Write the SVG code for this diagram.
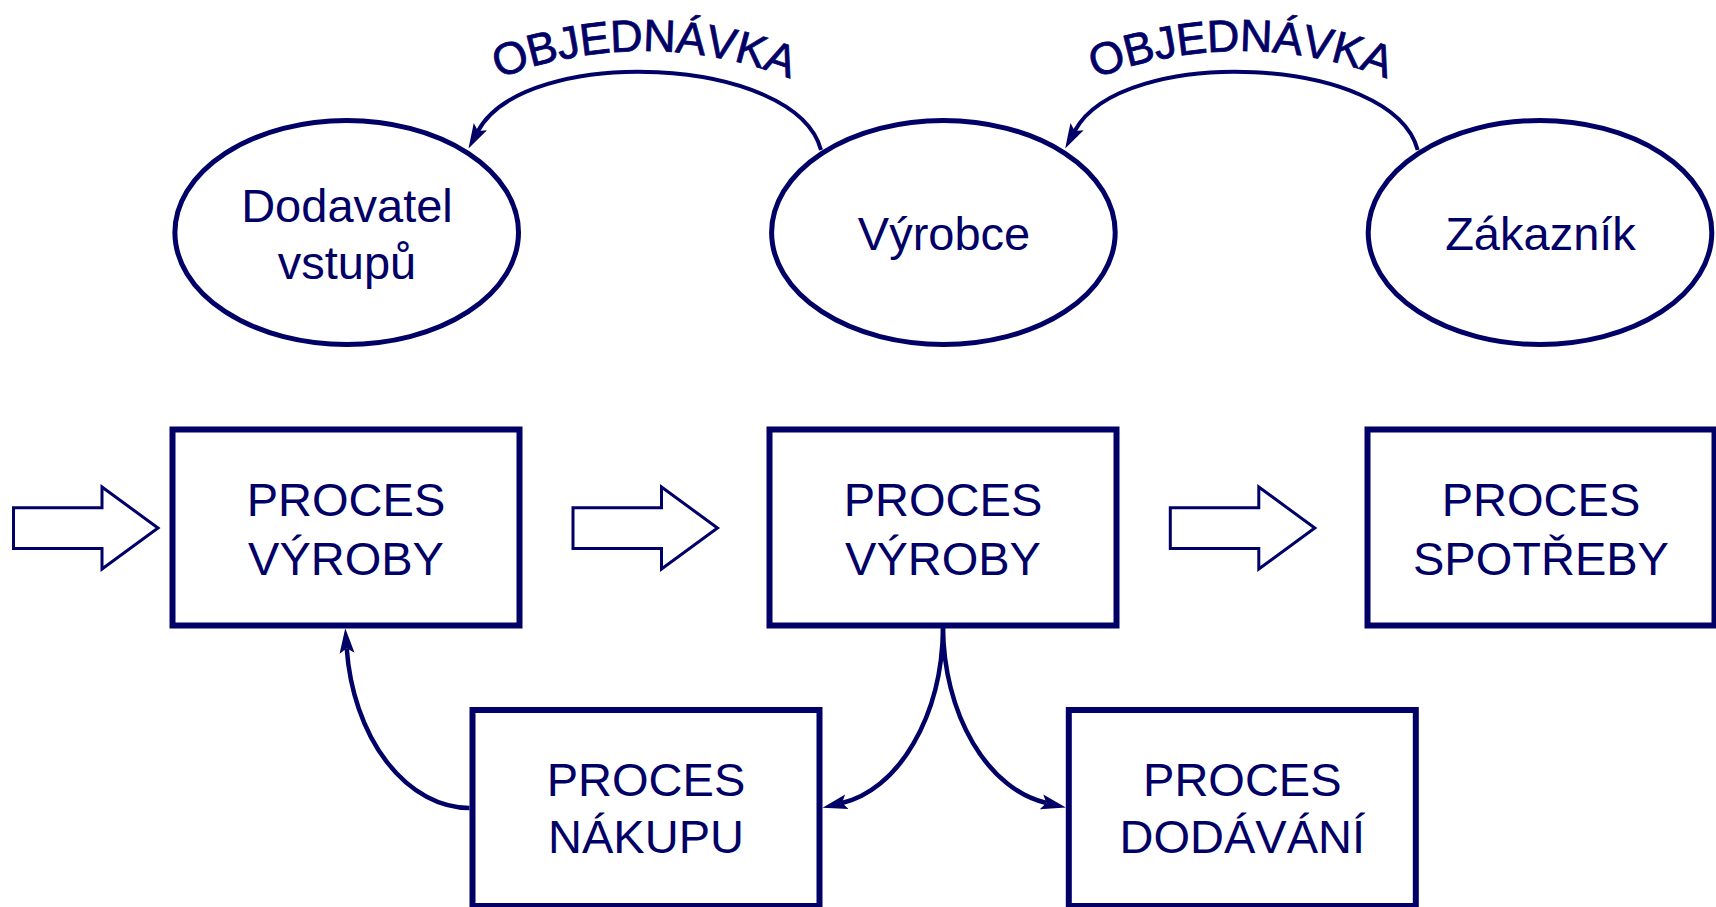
<svg xmlns="http://www.w3.org/2000/svg" xmlns:xlink="http://www.w3.org/1999/xlink" width="1716" height="907" viewBox="0 0 1716 907">
  <style>
    .node { fill: #ffffff; stroke: #000066; }
    .ell { stroke-width: 5; }
    .box { stroke-width: 6; }
    .lbl { font-family: "Liberation Sans", Arial, sans-serif; font-size: 47px; fill: #000066; text-anchor: middle; }
    .order { font-family: "Liberation Sans", Arial, sans-serif; font-size: 45px; fill: #000066; stroke: #000066; stroke-width: 0.8; letter-spacing: -0.5px; }
    .conn { fill: none; stroke: #000066; }
    .top { stroke-width: 4; }
    .low { stroke-width: 4.5; }
    .block { fill: #ffffff; stroke: #000066; stroke-width: 3; stroke-linejoin: miter; }
  </style>
  <defs>
    <marker id="ah" markerUnits="userSpaceOnUse" markerWidth="26" markerHeight="16" viewBox="0 0 26 15" refX="5" refY="7.5" orient="auto">
      <path d="M0 0 L25 7.5 L0 15 L5 7.5 Z" fill="#000066"/>
    </marker>
    <path id="tp1" d="M361.2 168.2 A400 400 0 0 1 926.8 168.2"/>
    <path id="tp2" d="M957.9 168.2 A400 400 0 0 1 1523.5 168.2"/>
    <polygon id="blk" points="13.5,507.7 102,507.7 102,487 158,528 102,569 102,548.5 13.5,548.5"/>
  </defs>
  <rect width="1716" height="907" fill="#ffffff"/>

  <g id="connectors">
    <path class="conn top" d="M821 150 C796 55 525 44 478 131" marker-end="url(#ah)"/>
    <path class="conn top" d="M1417.7 150 C1392.7 55 1121.7 44 1074.7 131" marker-end="url(#ah)"/>
    <path class="conn low" d="M469.5 808 A124 178 0 0 1 346.7 648.3" marker-end="url(#ah)"/>
    <path class="conn low" d="M943 628.3 A120 180 0 0 1 842 803" marker-end="url(#ah)"/>
    <path class="conn low" d="M943 628.3 A123 180 0 0 0 1046.4 803" marker-end="url(#ah)"/>
    <use xlink:href="#blk" class="block"/>
    <use xlink:href="#blk" class="block" transform="translate(559.5 0)"/>
    <use xlink:href="#blk" class="block" transform="translate(1156.8 0)"/>
    <text class="order"><textPath xlink:href="#tp1" startOffset="50%" text-anchor="middle">OBJEDNÁVKA</textPath></text>
    <text class="order"><textPath xlink:href="#tp2" startOffset="50%" text-anchor="middle">OBJEDNÁVKA</textPath></text>
  </g>

  <g id="dodavatel">
    <ellipse class="node ell" cx="346.7" cy="232.5" rx="171.8" ry="112"/>
    <text class="lbl" x="347" y="221.7">Dodavatel</text>
    <text class="lbl" x="347" y="279.3">vstupů</text>
  </g>
  <g id="vyrobce">
    <ellipse class="node ell" cx="943.4" cy="232.5" rx="171.8" ry="112"/>
    <text class="lbl" x="944" y="250">Výrobce</text>
  </g>
  <g id="zakaznik">
    <ellipse class="node ell" cx="1540" cy="232.5" rx="171.8" ry="112"/>
    <text class="lbl" x="1540.5" y="250">Zákazník</text>
  </g>

  <g id="proces-vyroby-1">
    <rect class="node box" x="172.5" y="429.5" width="347" height="196"/>
    <text class="lbl" x="346" y="516.3">PROCES</text>
    <text class="lbl" x="346" y="574.7">VÝROBY</text>
  </g>
  <g id="proces-vyroby-2">
    <rect class="node box" x="769.5" y="429.5" width="347" height="196"/>
    <text class="lbl" x="943" y="516.3">PROCES</text>
    <text class="lbl" x="943" y="574.7">VÝROBY</text>
  </g>
  <g id="proces-spotreby">
    <rect class="node box" x="1367.5" y="429.5" width="347" height="196"/>
    <text class="lbl" x="1541" y="516.3">PROCES</text>
    <text class="lbl" x="1541" y="574.7">SPOTŘEBY</text>
  </g>
  <g id="proces-nakupu">
    <rect class="node box" x="472.5" y="710" width="347" height="196"/>
    <text class="lbl" x="646" y="796.3">PROCES</text>
    <text class="lbl" x="646" y="853">NÁKUPU</text>
  </g>
  <g id="proces-dodavani">
    <rect class="node box" x="1068.8" y="710" width="347" height="196"/>
    <text class="lbl" x="1242.3" y="796.3">PROCES</text>
    <text class="lbl" x="1242.3" y="853">DODÁVÁNÍ</text>
  </g>
</svg>
